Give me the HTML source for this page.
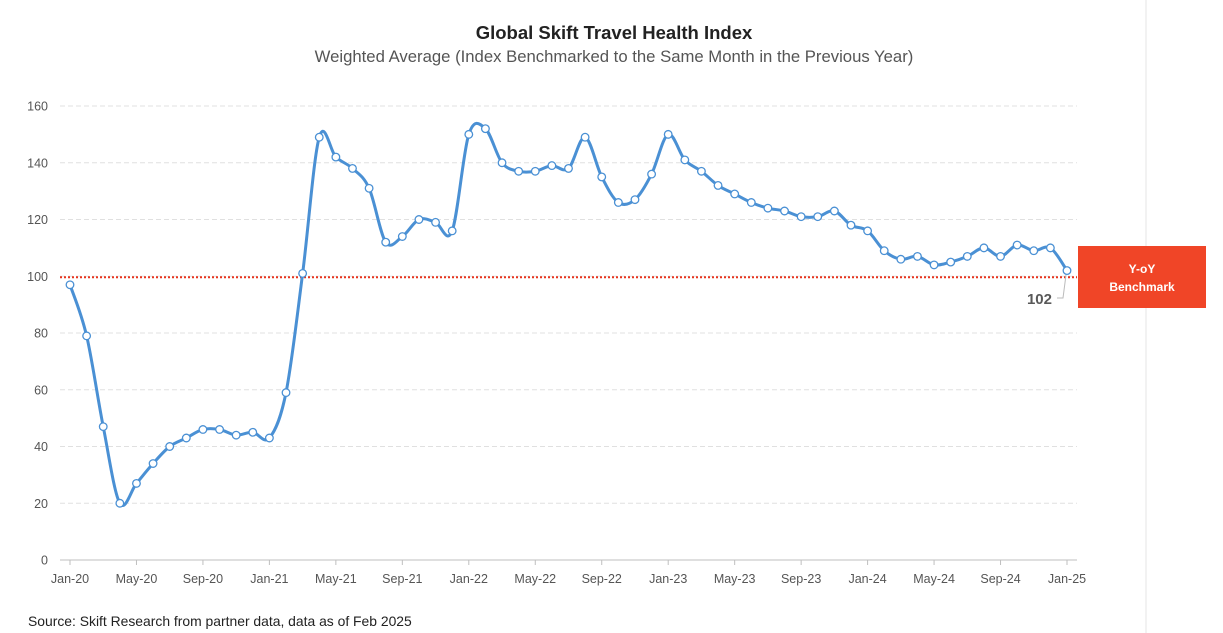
<!DOCTYPE html>
<html><head><meta charset="utf-8"><style>
body{margin:0;background:#fff;}
svg{display:block;font-family:"Liberation Sans",sans-serif;}
</style></head><body>
<svg id="c" width="1223" height="633" viewBox="0 0 1223 633" xmlns="http://www.w3.org/2000/svg">
<rect width="1223" height="633" fill="#fff"/>
<line x1="1146" y1="0" x2="1146" y2="633" stroke="#e6e6e6" stroke-width="1"/>
<text x="614" y="39" text-anchor="middle" font-size="18.5" font-weight="bold" fill="#222">Global Skift Travel Health Index</text>
<text x="614" y="62" text-anchor="middle" font-size="16.7" fill="#555">Weighted Average (Index Benchmarked to the Same Month in the Previous Year)</text>
<g id="grid"></g>
<line x1="60" y1="277.3" x2="1077" y2="277.3" stroke="#e8331c" stroke-width="2" stroke-dasharray="2,2"/>
<path id="ln" fill="none" stroke="#4a90d4" stroke-width="3"/>
<g id="pts"></g>
<rect x="1078" y="246" width="128" height="62" fill="#f04527"/>
<text x="1142" y="273" text-anchor="middle" font-size="12" font-weight="bold" fill="#fff">Y-oY</text>
<text x="1142" y="291" text-anchor="middle" font-size="12" font-weight="bold" fill="#fff">Benchmark</text>
<polyline points="1057,298 1063,298 1066,275" fill="none" stroke="#bbb" stroke-width="1"/>
<text x="1052" y="304" text-anchor="end" font-size="15" font-weight="bold" fill="#595959">102</text>
<text x="28" y="626" font-size="13.9" fill="#222">Source: Skift Research from partner data, data as of Feb 2025</text>
</svg>
<script>
var d=[97,79,47,20,27,34,40,43,46,46,44,45,43,59,101,149,142,138,131,112,114,120,119,116,150,152,140,137,137,139,138,149,135,126,127,136,150,141,137,132,129,126,124,123,121,121,123,118,116,109,106,107,104,105,107,110,107,111,109,110,102];
function X(i){return 70+i*(1067-70)/60;}
function Y(v){return 560-v*(560-106)/160;}
var g=document.getElementById('grid'),s='';
for(var v=0;v<=160;v+=20){var y=Y(v);
 if(v>0)s+='<line x1="60" y1="'+y+'" x2="1077" y2="'+y+'" stroke="#e0e0e0" stroke-dasharray="5,3"/>';
 else s+='<line x1="60" y1="'+y+'" x2="1077" y2="'+y+'" stroke="#bfbfbf"/>';
 s+='<text x="48" y="'+(y+4.5)+'" text-anchor="end" font-size="12.5" fill="#555">'+v+'</text>';}
var lab=['Jan-20','May-20','Sep-20','Jan-21','May-21','Sep-21','Jan-22','May-22','Sep-22','Jan-23','May-23','Sep-23','Jan-24','May-24','Sep-24','Jan-25'];
for(var k=0;k<lab.length;k++){var x=X(k*4);
 s+='<line x1="'+x+'" y1="560" x2="'+x+'" y2="565" stroke="#bfbfbf"/>';
 s+='<text x="'+x+'" y="583" text-anchor="middle" font-size="12.5" fill="#555">'+lab[k]+'</text>';}
g.innerHTML=s;
var P=d.map(function(v,i){return [X(i),Y(v)];});
var p='M'+P[0][0]+','+P[0][1];
for(var i=0;i<P.length-1;i++){var a=P[i-1]||P[i],b=P[i],c=P[i+1],e=P[i+2]||c;
 var c1=[b[0]+(c[0]-a[0])/6,b[1]+(c[1]-a[1])/6],c2=[c[0]-(e[0]-b[0])/6,c[1]-(e[1]-b[1])/6];
 p+=' C'+c1[0]+','+c1[1]+' '+c2[0]+','+c2[1]+' '+c[0]+','+c[1];}
document.getElementById('ln').setAttribute('d',p);
var q='';P.forEach(function(pt){q+='<circle cx="'+pt[0]+'" cy="'+pt[1]+'" r="3.8" fill="#fff" stroke="#4a90d4" stroke-width="1.3"/>';});
document.getElementById('pts').innerHTML=q;
</script>
</body></html>
